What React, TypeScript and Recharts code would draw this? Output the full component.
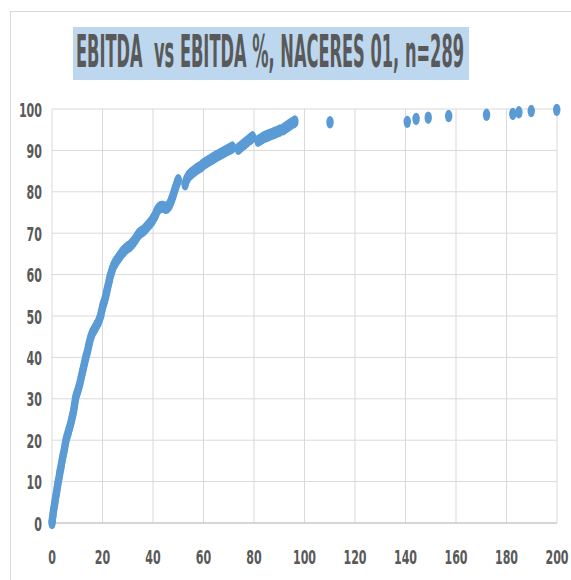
import * as React from "react";
import {
  ScatterChart,
  Scatter,
  XAxis,
  YAxis,
  CartesianGrid,
} from "recharts";

// EBITDA (x) vs cumulative EBITDA % (y)
const steepPart: [number, number][] = [
  [0, 0], [0.1, 0.5], [0.2, 1.2], [0.4, 1.9], [0.5, 2.6], [0.7, 3.3], [0.9, 4.1],
  [1.1, 4.8], [1.3, 5.6], [1.5, 6.3], [1.7, 7.1], [1.9, 7.8], [2.1, 8.6], [2.3, 9.3],
  [2.5, 10.1], [2.8, 10.9], [3.0, 11.8], [3.2, 12.5], [3.5, 13.3], [3.7, 14.1],
  [4.0, 15.0], [4.2, 15.8], [4.5, 16.6], [4.8, 17.4], [5.0, 18.2], [5.3, 19.1],
  [5.5, 19.9], [5.8, 20.6], [6.2, 21.4], [6.5, 22.1], [6.9, 22.9], [7.3, 23.7],
  [7.6, 24.5], [7.9, 25.3], [8.2, 26.1], [8.5, 26.9], [8.7, 27.6], [8.9, 28.4],
  [9.1, 29.2], [9.3, 30.0], [9.6, 30.8], [10.0, 31.5], [10.4, 32.3], [10.8, 33.1],
  [11.1, 33.9], [11.4, 34.7], [11.7, 35.5], [12.0, 36.3], [12.3, 37.1], [12.6, 37.9],
  [12.9, 38.7], [13.2, 39.5], [13.5, 40.3], [13.9, 41.1], [14.2, 41.9], [14.5, 42.7],
  [14.8, 43.5], [15.1, 44.3], [15.5, 45.1], [16.0, 45.9], [16.6, 46.6], [17.2, 47.2],
  [17.8, 47.9], [18.4, 48.6], [18.9, 49.4], [19.3, 50.2], [19.6, 51.0], [19.9, 51.8],
  [20.2, 52.6], [20.6, 53.3], [21.0, 54.1], [21.3, 54.9], [21.6, 55.7], [21.9, 56.5],
  [22.2, 57.3], [22.5, 58.1], [22.8, 58.9], [23.1, 59.7], [23.5, 60.5], [23.9, 61.3],
  [24.4, 62.1],
];

const kneePart: [number, number][] = [
  [25.0, 62.8], [25.6, 63.4], [26.3, 64.0], [27.0, 64.6], [27.7, 65.2], [28.4, 65.7],
  [29.2, 66.2], [30.0, 66.6], [30.8, 66.9], [31.6, 67.4], [32.3, 67.9], [33.0, 68.5],
  [33.7, 69.2], [34.4, 69.8], [35.1, 70.2], [35.9, 70.5], [36.7, 70.9], [37.4, 71.4],
  [38.1, 71.9], [38.8, 72.4], [39.5, 72.9], [40.1, 73.5], [40.7, 74.1], [41.2, 74.8],
  [41.7, 75.5], [42.3, 76.0], [42.9, 76.3], [43.6, 76.4], [44.3, 76.3], [45.0, 76.1],
  [45.6, 76.2], [46.2, 76.6], [46.7, 77.1], [47.2, 77.8], [47.6, 78.5], [48.0, 79.2],
  [48.4, 80.0], [48.8, 80.8], [49.2, 81.5], [49.6, 82.2], [50.0, 82.8],
];

const flatPart: [number, number][] = [
  [52.7, 81.8], [53.1, 82.6], [53.6, 83.3], [54.2, 83.9], [54.9, 84.3], [55.6, 84.7],
  [56.3, 85.0], [57.1, 85.4], [57.9, 85.7], [58.7, 86.0], [59.5, 86.4], [60.3, 86.8],
  [61.1, 87.1], [61.9, 87.4], [62.7, 87.7], [63.5, 88.0], [64.3, 88.3], [65.1, 88.6],
  [66.0, 88.9], [66.9, 89.2], [67.8, 89.5], [68.7, 89.8], [69.6, 90.1], [70.5, 90.4],
  [71.4, 90.7], [73.8, 90.4], [74.6, 90.8], [75.4, 91.2], [76.2, 91.6], [77.0, 92.0],
  [77.8, 92.4], [78.6, 92.8], [79.4, 93.2], [81.6, 92.3], [82.4, 92.6], [83.2, 92.9],
  [84.0, 93.2], [84.8, 93.4], [85.6, 93.6], [86.4, 93.8], [87.2, 94.0], [88.0, 94.2],
  [88.8, 94.4], [89.6, 94.6], [90.3, 94.8], [91.6, 95.1], [92.3, 95.4], [93.0, 95.7],
  [93.7, 96.0], [94.4, 96.3], [95.1, 96.6], [95.8, 96.8], [96.2, 97.0],
];

const tailPart: [number, number][] = [
  [110.1, 96.8], [140.7, 96.9], [144.2, 97.6], [149.0, 97.9], [157.1, 98.3],
  [172.1, 98.6], [182.5, 98.8], [184.9, 99.2], [189.8, 99.5], [199.9, 99.8],
];

const xTicks = [0, 20, 40, 60, 80, 100, 120, 140, 160, 180, 200];
const yTicks = [0, 10, 20, 30, 40, 50, 60, 70, 80, 90, 100];

const title = "EBITDA  vs EBITDA %, NACERES 01, n=289";

const data = [...steepPart, ...kneePart, ...flatPart, ...tailPart].map(([x, y]) => ({ x, y }));

const DOT = "#5B9BD5";
const TEXT = "#595959";
const DIGIT_W = 7.7;

const XTick = (props: any) => {
  const { x, y, payload } = props;
  const label = String(payload.value);
  const w = label.length * DIGIT_W;
  return (
    <text
      x={x - w / 2}
      y={y + 41}
      fill={TEXT}
      fontFamily="DejaVu Sans"
      fontWeight="bold"
      fontSize={20}
      textLength={w}
      lengthAdjust="spacingAndGlyphs"
    >
      {label}
    </text>
  );
};

const YTick = (props: any) => {
  const { x, y, payload } = props;
  const label = String(payload.value);
  const w = label.length * DIGIT_W;
  return (
    <text
      x={x - w}
      y={y + 7.5}
      fill={TEXT}
      fontFamily="DejaVu Sans"
      fontWeight="bold"
      fontSize={20}
      textLength={w}
      lengthAdjust="spacingAndGlyphs"
    >
      {label}
    </text>
  );
};

const EllipseDot = (props: any) => {
  const { cx, cy } = props;
  if (cx == null || cy == null) return null;
  return <ellipse cx={cx} cy={cy} rx={3.7} ry={6.2} fill={DOT} />;
};

export default function App() {
  return (
    <div style={{ position: "fixed", left: 0, top: 0, width: 571, height: 580, background: "#fff" }}>
      {/* chart frame, only the top/left edges are visible */}
      <div
        style={{
          position: "absolute",
          left: 10,
          top: 11,
          width: 561,
          height: 569,
          boxSizing: "border-box",
          borderTop: "1px solid #d9d9d9",
          borderLeft: "1px solid #d9d9d9",
        }}
      />
      <ScatterChart
        width={571}
        height={580}
        margin={{ top: 109, right: 14, left: 0, bottom: 0 }}
        style={{ position: "absolute", left: 0, top: 0 }}
      >
        <CartesianGrid stroke="#d9d9d9" strokeWidth={1} />
        <XAxis
          type="number"
          dataKey="x"
          domain={[0, 200]}
          ticks={xTicks}
          height={57}
          tickSize={0}
          tickMargin={0}
          axisLine={{ stroke: "#bfbfbf" }}
          tickLine={false}
          tick={<XTick />}
          interval={0}
        />
        <YAxis
          type="number"
          dataKey="y"
          domain={[0, 100]}
          ticks={yTicks}
          width={52}
          tickSize={0}
          tickMargin={10}
          axisLine={false}
          tickLine={false}
          tick={<YTick />}
          interval={0}
        />
        <Scatter data={data} fill={DOT} shape={<EllipseDot />} isAnimationActive={false} />
      </ScatterChart>
      <svg width={571} height={100} style={{ position: "absolute", left: 0, top: 0 }}>
        <rect x={73} y={27} width={396} height={53} fill="#BDD7EE" />
        <text
          x={76}
          y={67}
          fill={TEXT}
          fontFamily="DejaVu Sans"
          fontWeight="bold"
          fontSize={44}
          textLength={388}
          lengthAdjust="spacingAndGlyphs"
          style={{ whiteSpace: "pre" }}
        >
          {title}
        </text>
      </svg>
    </div>
  );
}
